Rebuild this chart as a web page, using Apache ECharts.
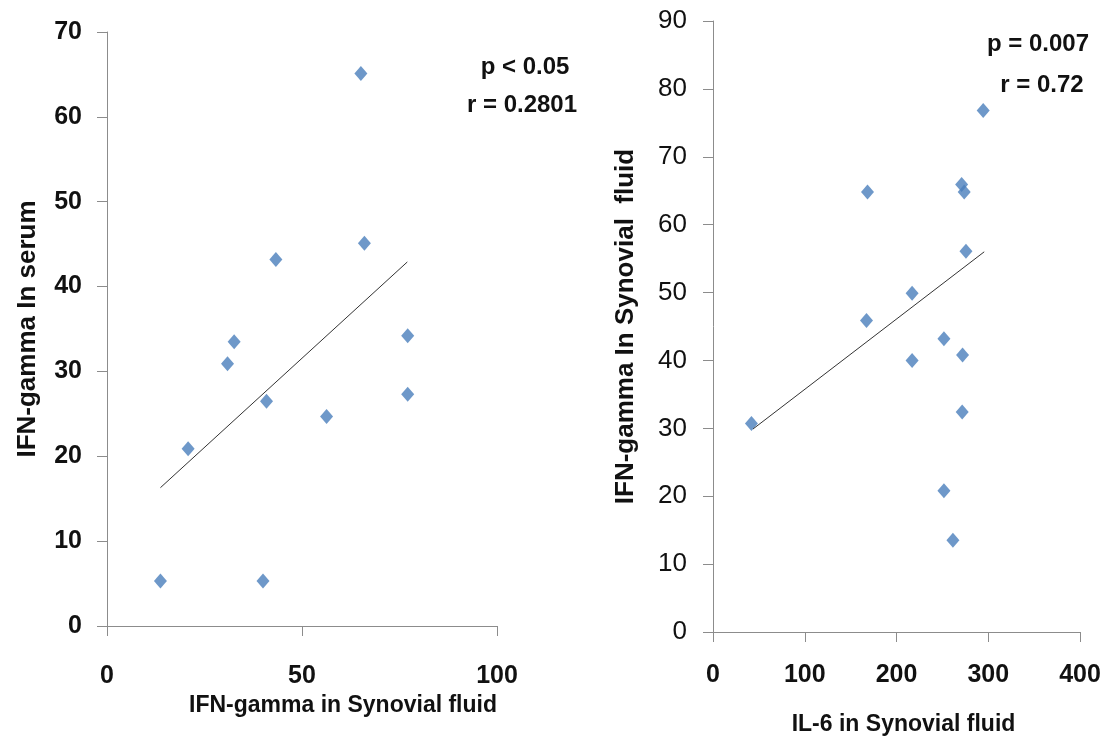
<!DOCTYPE html>
<html>
<head>
<meta charset="utf-8">
<script src="https://cdn.jsdelivr.net/npm/echarts@6/dist/echarts.min.js"></script>
<style>
  html, body { margin: 0; padding: 0; background: #fff; }
  #main { width: 1112px; height: 745px; }
</style>
</head>
<body>
<div id="main"></div>
<script>
// left panel: IFN-gamma synovial fluid (x) vs serum (y)
var leftX = [65.1, 66, 43.3, 77.1, 32.6, 30.9, 40.9, 77.1, 56.3, 20.8, 13.7, 40];
var leftY = [65.1, 45.1, 43.2, 34.2, 33.5, 30.9, 26.5, 27.3, 24.7, 20.9, 5.3, 5.3];
var leftTrendX = [13.7, 77];
var leftTrendY = [16.3, 42.9];

// right panel: IL-6 synovial fluid (x) vs IFN-gamma synovial fluid (y)
var rightX = [294.5, 271, 273.8, 168.4, 275.7, 217, 167.3, 251.7, 272, 217, 271.6, 41.9, 251.7, 261.5];
var rightY = [76.8, 65.9, 64.8, 64.8, 56.1, 49.9, 45.9, 43.2, 40.8, 40, 32.4, 30.7, 20.8, 13.5];
var rightTrendX = [43.6, 295.6];
var rightTrendY = [29.9, 56];

var FONT = "'Liberation Sans', Arial, sans-serif";
var BLUE = '#4A7EBB';

function pairs(xs, ys) {
  return xs.map(function (x, i) { return [x, ys[i]]; });
}

var axisLine = { lineStyle: { color: '#8c8c8c', width: 1 } };
var axisTick = { show: true, inside: false, length: 10, lineStyle: { color: '#8c8c8c' } };
var boldText = { color: '#111', fontFamily: FONT, fontWeight: 'bold' };

var chart = echarts.init(document.getElementById('main'));
chart.setOption({
  animation: false,
  backgroundColor: '#fff',
  grid: [
    { left: 107, top: 32, right: 615, bottom: 119 },
    { left: 713, top: 21, right: 32, bottom: 113 }
  ],
  xAxis: [
    {
      gridIndex: 0, type: 'value', min: 0, max: 100, interval: 50,
      splitLine: { show: false }, axisLine: axisLine, axisTick: axisTick,
      axisLabel: Object.assign({ margin: 38, fontSize: 25 }, boldText),
      name: 'IFN-gamma in Synovial fluid', nameLocation: 'middle', nameGap: 65,
      nameTextStyle: Object.assign({ fontSize: 23, padding: [0, 0, 0, 82] }, boldText)
    },
    {
      gridIndex: 1, type: 'value', min: 0, max: 400, interval: 100,
      splitLine: { show: false }, axisLine: axisLine, axisTick: axisTick,
      axisLabel: Object.assign({ margin: 31, fontSize: 25 }, boldText),
      name: 'IL-6 in Synovial fluid', nameLocation: 'middle', nameGap: 81,
      nameTextStyle: Object.assign({ fontSize: 23, padding: [0, 0, 0, 14] }, boldText)
    }
  ],
  yAxis: [
    {
      gridIndex: 0, type: 'value', min: 0, max: 70, interval: 10,
      splitLine: { show: false }, axisLine: axisLine, axisTick: axisTick,
      axisLabel: Object.assign({ margin: 25, fontSize: 25 }, boldText),
      name: 'IFN-gamma In serum', nameLocation: 'middle', nameGap: 66,
      nameTextStyle: Object.assign({ fontSize: 26 }, boldText)
    },
    {
      gridIndex: 1, type: 'value', min: 0, max: 90, interval: 10,
      splitLine: { show: false }, axisLine: axisLine, axisTick: axisTick,
      axisLabel: { margin: 26, color: '#111', fontFamily: FONT, fontSize: 26 },
      name: 'IFN-gamma In Synovial  fluid', nameLocation: 'middle', nameGap: 74,
      nameTextStyle: Object.assign({ fontSize: 26 }, boldText)
    }
  ],
  series: [
    {
      type: 'scatter', xAxisIndex: 0, yAxisIndex: 0,
      symbol: 'diamond', symbolSize: [13, 15],
      itemStyle: { color: BLUE },
      data: pairs(leftX, leftY)
    },
    {
      type: 'line', xAxisIndex: 0, yAxisIndex: 0,
      symbol: 'none', lineStyle: { color: '#333', width: 1 },
      data: pairs(leftTrendX, leftTrendY)
    },
    {
      type: 'scatter', xAxisIndex: 1, yAxisIndex: 1,
      symbol: 'diamond', symbolSize: [13, 15],
      itemStyle: { color: BLUE },
      data: pairs(rightX, rightY)
    },
    {
      type: 'line', xAxisIndex: 1, yAxisIndex: 1,
      symbol: 'none', lineStyle: { color: '#333', width: 1 },
      data: pairs(rightTrendX, rightTrendY)
    }
  ],
  graphic: [
    { type: 'text', x: 525, y: 67, style: { text: 'p < 0.05', align: 'center', verticalAlign: 'middle', fill: '#111', font: 'bold 24px ' + FONT } },
    { type: 'text', x: 522, y: 105, style: { text: 'r = 0.2801', align: 'center', verticalAlign: 'middle', fill: '#111', font: 'bold 24px ' + FONT } },
    { type: 'text', x: 1038, y: 44, style: { text: 'p = 0.007', align: 'center', verticalAlign: 'middle', fill: '#111', font: 'bold 24px ' + FONT } },
    { type: 'text', x: 1042, y: 85, style: { text: 'r = 0.72', align: 'center', verticalAlign: 'middle', fill: '#111', font: 'bold 24px ' + FONT } }
  ]
});
</script>
</body>
</html>
